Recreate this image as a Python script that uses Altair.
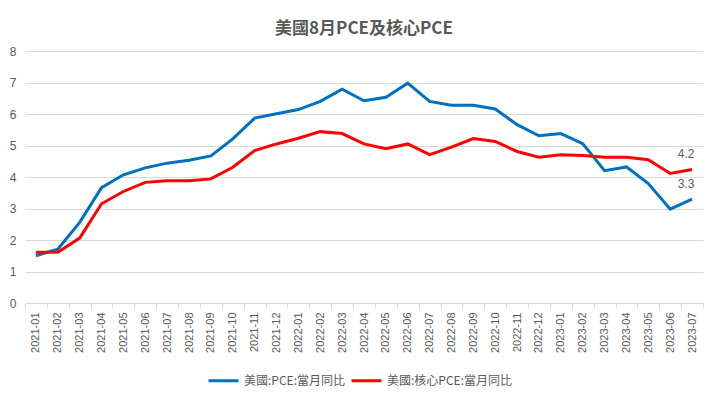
import altair as alt
import pandas as pd

months = ["2021-01","2021-02","2021-03","2021-04","2021-05","2021-06","2021-07","2021-08","2021-09","2021-10","2021-11","2021-12",
          "2022-01","2022-02","2022-03","2022-04","2022-05","2022-06","2022-07","2022-08","2022-09","2022-10","2022-11","2022-12",
          "2023-01","2023-02","2023-03","2023-04","2023-05","2023-06","2023-07"]
pce = [1.50,1.71,2.56,3.66,4.07,4.29,4.44,4.53,4.67,5.21,5.87,6.01,
       6.14,6.40,6.79,6.42,6.53,6.98,6.40,6.28,6.28,6.16,5.66,5.31,
       5.38,5.06,4.20,4.32,3.79,2.98,3.30]
core = [1.61,1.61,2.06,3.15,3.54,3.83,3.88,3.88,3.94,4.31,4.84,5.05,
        5.23,5.44,5.38,5.05,4.90,5.05,4.71,4.95,5.22,5.13,4.81,4.63,
        4.71,4.68,4.63,4.63,4.55,4.11,4.24]
series_names = ["美國:PCE:當月同比", "美國:核心PCE:當月同比"]
series_colors = ["#0070C0", "#FF0000"]
title_text = "美國8月PCE及核心PCE"

rows = []
for i, m in enumerate(months):
    rows.append({"month": m, "value": pce[i], "series": series_names[0], "order": 0})
    rows.append({"month": m, "value": core[i], "series": series_names[1], "order": 1})
df = pd.DataFrame(rows)
last = df[df["month"] == months[-1]].copy()
last["label"] = last["value"].map(lambda v: f"{v:.1f}")

xenc = alt.X("month:N", sort=months, bandPosition=0.5,
             scale=alt.Scale(type="band", paddingInner=0, paddingOuter=0),
             axis=alt.Axis(title=None, labelAngle=-90, labelFontSize=11, labelColor="#595959",
                           labelFont="Liberation Sans", tickBand="extent", tickSize=5,
                           tickColor="#d9d9d9", domainColor="#d9d9d9", labelPadding=4,
                           grid=False))
yenc = alt.Y("value:Q", scale=alt.Scale(domain=[0, 8]),
             axis=alt.Axis(title=None, tickCount=8, labelFontSize=12, labelColor="#595959",
                           labelFont="Liberation Sans", domain=False, ticks=False,
                           labelPadding=9, gridColor="#d9d9d9"))

lines = alt.Chart(df).mark_line(strokeWidth=3).encode(
    x=xenc, y=yenc,
    color=alt.Color("series:N", sort=series_names,
                    scale=alt.Scale(domain=series_names, range=series_colors),
                    legend=alt.Legend(title=None, orient="none", direction="horizontal",
                                      legendX=182, legendY=313, symbolType="stroke",
                                      symbolSize=900, symbolStrokeWidth=3,
                                      labelFont="Noto Sans CJK TC", labelFontSize=12,
                                      labelColor="#595959", columnPadding=0, labelOffset=4)),
    detail="series:N",
)

labels = alt.Chart(last).mark_text(dx=-6, dy=-15, fontSize=12, color="#595959",
                                   font="Liberation Sans").encode(
    x=alt.X("month:N", sort=months, bandPosition=0.5), y="value:Q", text="label:N")

chart = alt.layer(lines, labels).properties(
    width=678, height=252,
    title=alt.TitleParams(title_text, fontSize=17, fontWeight="bold", color="#595959",
                          font="Noto Sans CJK TC", anchor="middle", offset=7),
    autosize=alt.AutoSizeParams(type="none"),
    padding={"left": 17, "top": 43, "right": 7, "bottom": 92},
).configure_view(stroke=None)

chart.save("out.html", embed_options={"renderer": "svg", "actions": False})
